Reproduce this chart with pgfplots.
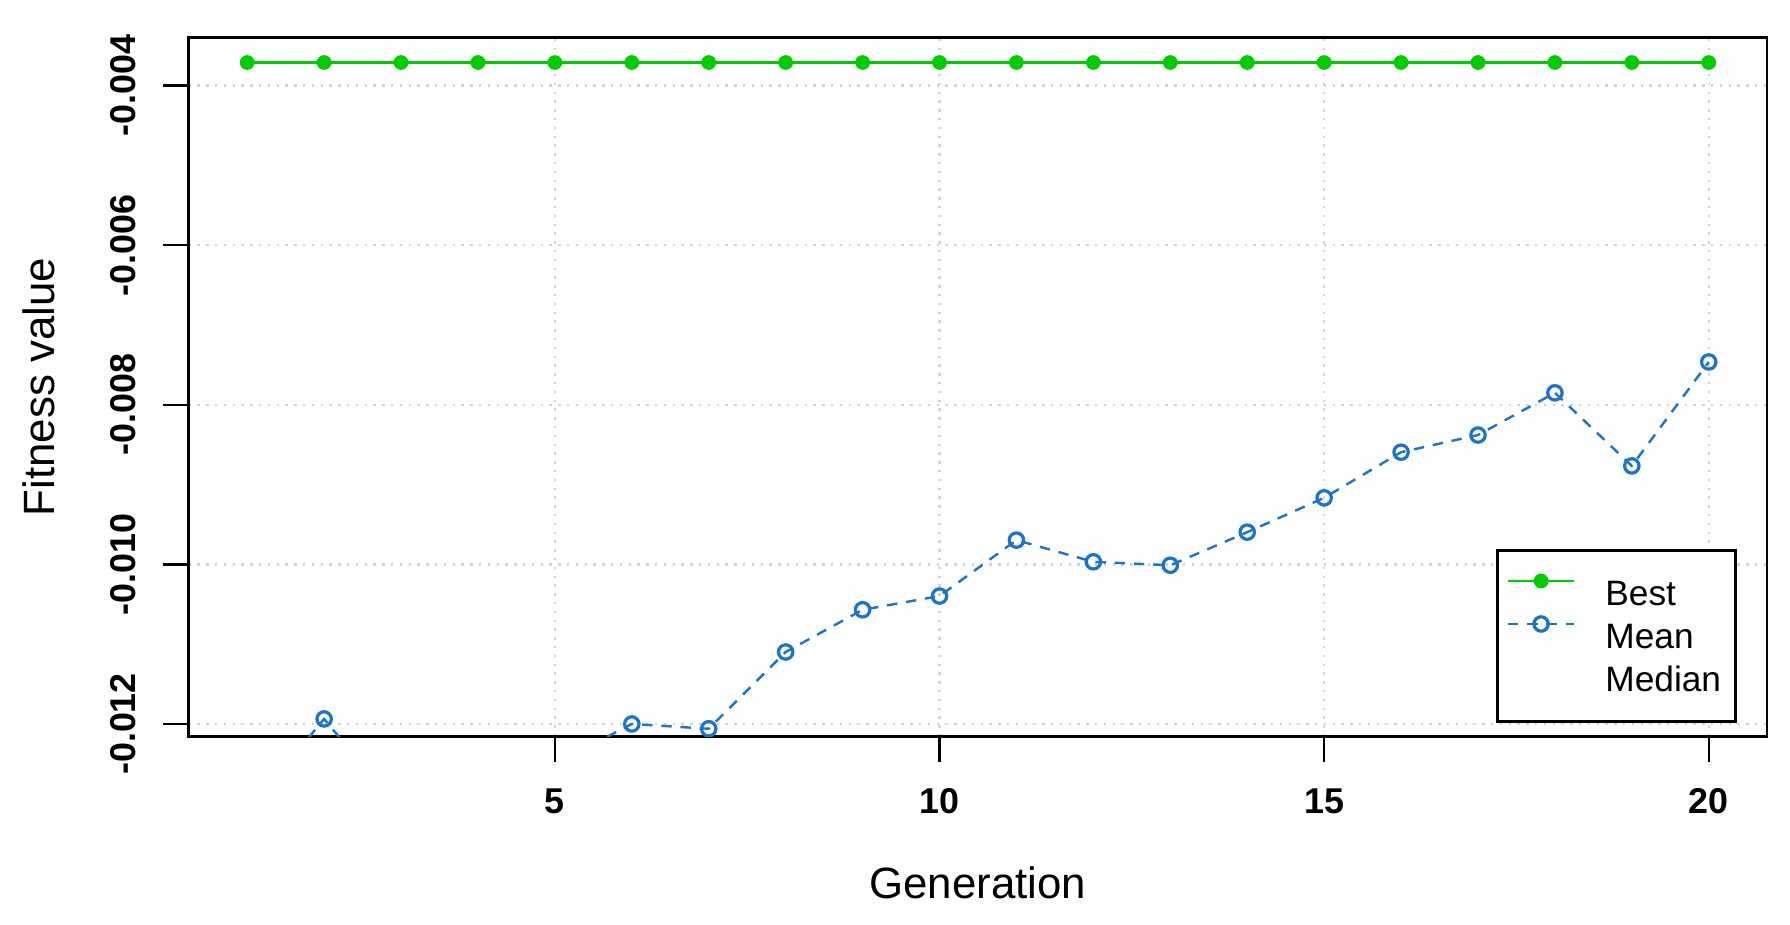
\documentclass[border=0pt]{standalone}
\usepackage{fontspec}
\setmainfont{Liberation Sans}
\usepackage{pgfplots}
\pgfplotsset{compat=1.18}
\definecolor{bestgreen}{HTML}{00CD00}
\definecolor{meanblue}{HTML}{1874CD}
\definecolor{gridgray}{HTML}{D3D3D3}
\begin{document}
\begin{tikzpicture}
\path[use as bounding box] (-47.125bp,-47.125bp) rectangle (400.375bp,184.125bp);
\begin{axis}[
  at={(0,0)}, anchor=south west, scale only axis,
  width=394.625bp, height=174.7bp,
  xmin=0.237, xmax=20.757, ymin=-0.012157, ymax=-0.003399,
  scaled y ticks=false, scaled x ticks=false,
  xtick={5,10,15,20}, xticklabels={5,10,15,20},
  ytick={-0.012,-0.010,-0.008,-0.006,-0.004},
  yticklabels={-0.012,-0.010,-0.008,-0.006,-0.004},
  xtick pos=lower, ytick pos=left,
  tick align=outside, major tick length=6.25bp,
  every tick/.style={black, line width=0.6bp},
  axis line style={line width=0.7bp},
  grid=major,
  major grid style={gridgray, line width=0.6bp, dash pattern=on 0.6bp off 1.6bp},
  ticklabel style={font=\fontsize{9}{10}\selectfont\bfseries},
  xticklabel style={anchor=north, inner sep=0pt},
  xticklabel shift=6.65bp,
  yticklabel style={rotate=90, anchor=south, inner sep=0pt},
  yticklabel shift=6.75bp,
  xlabel={Generation}, ylabel={Fitness value},
  label style={font=\fontsize{11}{13}\selectfont},
  xlabel style={at={(axis description cs:0.5,-0.2089)}, anchor=center},
  ylabel style={at={(axis description cs:-0.0948,0.5)}, anchor=center},
  clip marker paths=true,
  legend style={at={(rel axis cs:0.981,0.0195)}, anchor=south east,
    draw=black, line width=0.7bp, inner xsep=2.25bp, inner ysep=5.25bp,
    column sep=7.5bp, row sep=0pt, font=\fontsize{8.85}{10}\selectfont,
    nodes={inner sep=0pt, text height=8.425bp, text depth=2.325bp,
      text width=30.3bp, align=left}},
  legend cell align=left,
  legend image code/.code={\draw[mark repeat=2,mark phase=2,#1] plot coordinates {(0bp,3bp)(8.25bp,3bp)(16.5bp,3bp)};},
]
\addplot[bestgreen, line width=0.67bp, mark=*, mark size=1.5bp, mark options={solid}]
  coordinates {(1,-0.00371)(2,-0.00371)(3,-0.00371)(4,-0.00371)(5,-0.00371)
  (6,-0.00371)(7,-0.00371)(8,-0.00371)(9,-0.00371)(10,-0.00371)
  (11,-0.00371)(12,-0.00371)(13,-0.00371)(14,-0.00371)(15,-0.00371)
  (16,-0.00371)(17,-0.00371)(18,-0.00371)(19,-0.00371)(20,-0.00371)};
\addlegendentry{Best}
\addplot[meanblue, line width=0.6bp, dash pattern=on 2.6bp off 2.2bp, mark=o, mark size=1.8bp, mark options={solid, line width=0.8bp}]
  coordinates {(1,-0.0131)(2,-0.011937)(3,-0.0131)(4,-0.0128)(5,-0.0125)
  (6,-0.012)(7,-0.01206)(8,-0.011098)(9,-0.010569)(10,-0.010397)
  (11,-0.009696)(12,-0.009968)(13,-0.010011)(14,-0.009596)(15,-0.009166)
  (16,-0.008594)(17,-0.008379)(18,-0.00785)(19,-0.008766)(20,-0.007463)};
\addlegendentry{Mean}
\addlegendimage{legend image code/.code={\path[draw=none,fill=none] (0bp,3bp) -- (16.5bp,3bp);}}
\addlegendentry{Median}
\end{axis}
\end{tikzpicture}
\end{document}
